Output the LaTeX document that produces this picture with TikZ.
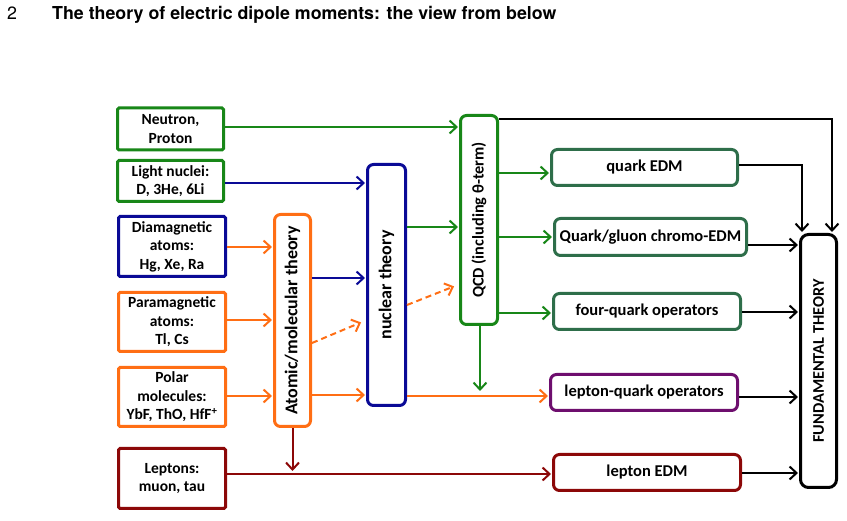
\documentclass[tikz,border=0pt]{standalone}
\usepackage{fontspec}
\setmainfont{Carlito}
\newfontfamily\heros{TeX Gyre Heros}
\usetikzlibrary{arrows.meta,calc}
\definecolor{cgreen}{RGB}{24,135,24}
\definecolor{cteal}{RGB}{46,110,74}
\definecolor{cblue}{RGB}{10,10,150}
\definecolor{corange}{RGB}{255,110,20}
\definecolor{cred}{RGB}{140,8,8}
\definecolor{cpurple}{RGB}{110,14,110}
\begin{document}
\begin{tikzpicture}[x=1pt,y=-1pt,
  bfont/.style={font=\fontsize{15.5}{18.5}\selectfont\bfseries},
  box/.style={draw,line width=3pt,fill=white,align=center,inner sep=0pt,rounded corners=1.5pt,bfont},
  rbox/.style={box,rounded corners=6pt,font=\fontsize{16.5}{19}\selectfont\bfseries},
  lbl/.style={rotate=90,inner sep=0pt},
  arr/.style={line width=2pt,shorten >=1pt,-{Straight Barb[length=7pt,width=13pt,line width=2pt]}},
  dsh/.style={arr,dash pattern=on 6pt off 4pt},
  ]
\useasboundingbox (0,0) rectangle (847,521);
% title
\node[anchor=base west,inner sep=0pt,font=\heros\fontsize{17.8}{20}\selectfont] (pnum) at (7,20) {2};
\node[anchor=base west,inner sep=0pt,font=\heros\fontsize{17.8}{20}\selectfont\bfseries] (title) at (52,20) {The theory of electric dipole moments: the view from below};
% left column
\node[box,draw=cgreen,minimum width=106pt,minimum height=42pt] (neutron) at (170.5,129) {Neutron,\\Proton};
\node[box,draw=cgreen,minimum width=106pt,minimum height=41pt] (light) at (170.5,181) {Light nuclei:\\D, 3He, 6Li};
\node[box,draw=cblue,minimum width=107pt,minimum height=60pt] (dia) at (172,246.5) {Diamagnetic\\atoms:\\Hg, Xe, Ra};
\node[box,draw=corange,minimum width=107pt,minimum height=59pt] (para) at (172,322) {Paramagnetic\\atoms:\\Tl, Cs};
\node[box,draw=corange,minimum width=107pt,minimum height=59pt] (polar) at (172,397) {Polar\\molecules:\\YbF, ThO, HfF\textsuperscript{+}};
\node[box,draw=cred,minimum width=107pt,minimum height=60pt] (leptons) at (172,478.5) {Leptons:\\muon, tau};
% theory columns
\node[rbox,draw=corange,minimum width=36pt,minimum height=212pt] (atomic) at (292.5,320.5) {};
\node[lbl,font=\fontsize{18}{20}\selectfont\bfseries] (atomictxt) at (atomic.center) {Atomic/molecular theory};
\node[rbox,draw=cblue,minimum width=38pt,minimum height=241pt] (nuclear) at (386.5,285) {};
\node[lbl,font=\fontsize{18}{20}\selectfont\bfseries] (nucleartxt) at (nuclear.center) {nuclear theory};
\node[rbox,draw=cgreen,minimum width=37pt,minimum height=209pt] (qcd) at (479,220) {};
\node[lbl,font=\fontsize{16.3}{19}\selectfont\bfseries] (qcdtxt) at (qcd.center) {QCD (including θ-term)};
% right column
\node[rbox,draw=cteal,minimum width=186pt,minimum height=36pt] (qedm) at (644.5,167.5) {quark EDM};
\node[rbox,draw=cteal,minimum width=192pt,minimum height=37pt] (chromo) at (650.5,237) {Quark/gluon chromo-EDM};
\node[rbox,draw=cteal,minimum width=187pt,minimum height=36pt] (four) at (647,311.5) {four-quark operators};
\node[rbox,draw=cpurple,minimum width=187pt,minimum height=36pt] (lq) at (644,392.5) {lepton-quark operators};
\node[rbox,draw=cred,minimum width=187pt,minimum height=36pt] (ledm) at (647,472.5) {lepton EDM};
\node[rbox,draw=black,rounded corners=8pt,minimum width=36pt,minimum height=253pt] (fund) at (818.5,361) {};
\node[lbl,font=\fontsize{16.3}{18}\selectfont\bfseries] (fundtxt) at (fund.center) {FUNDAMENTAL THEORY};
\coordinate (qdown) at (480,392);
\coordinate (ndash) at (362,322);
\coordinate (qdash) at (455,286);
% green
\draw[arr,cgreen] (neutron.east |- 0,127) -- (qcd.west |- 0,127);
\draw[arr,cgreen] (nuclear.east |- 0,227) -- (qcd.west |- 0,227);
\draw[arr,cgreen] (qcd.east |- 0,173) -- (qedm.west |- 0,173);
\draw[arr,cgreen] (qcd.east |- 0,237) -- (chromo.west |- 0,237);
\draw[arr,cgreen] (qcd.east |- 0,313) -- (four.west |- 0,313);
% blue
\draw[arr,cblue] (light.east |- 0,183) -- (nuclear.west |- 0,183);
\draw[arr,cblue] (atomic.east |- 0,278) -- (nuclear.west |- 0,278);
% orange
\draw[arr,corange] (dia.east |- 0,247) -- (atomic.west |- 0,247);
\draw[arr,corange] (para.east |- 0,320) -- (atomic.west |- 0,320);
\draw[arr,corange] (polar.east |- 0,396) -- (atomic.west |- 0,396);
\draw[arr,corange] (atomic.east |- 0,395) -- (nuclear.west |- 0,395);
\draw[arr,corange] (nuclear.east |- 0,396) -- (lq.west |- 0,396);
\draw[dsh,corange] (atomic.east |- 0,343) -- (ndash);
\draw[dsh,corange] (nuclear.east |- 0,305) -- (qdash);
\draw[arr,cgreen] (qcd.south -| qdown) -- (qdown);
% red
\draw[arr,cred] (atomic.south) -- (atomic.south |- 0,472);
\draw[arr,cred] (leptons.east |- 0,474) -- (ledm.west |- 0,474);
% black
\draw[arr,black] (qcd.east |- 0,119) -| (fund.north -| 832,0);
\draw[arr,black] (qedm.east |- 0,165) -| (fund.north -| 802,0);
\draw[arr,black] (chromo.east |- 0,245) -- (fund.west |- 0,245);
\draw[arr,black] (four.east |- 0,312) -- (fund.west |- 0,312);
\draw[arr,black] (lq.east |- 0,397) -- (fund.west |- 0,397);
\draw[arr,black] (ledm.east |- 0,473) -- (fund.west |- 0,473);
\end{tikzpicture}
\end{document}
